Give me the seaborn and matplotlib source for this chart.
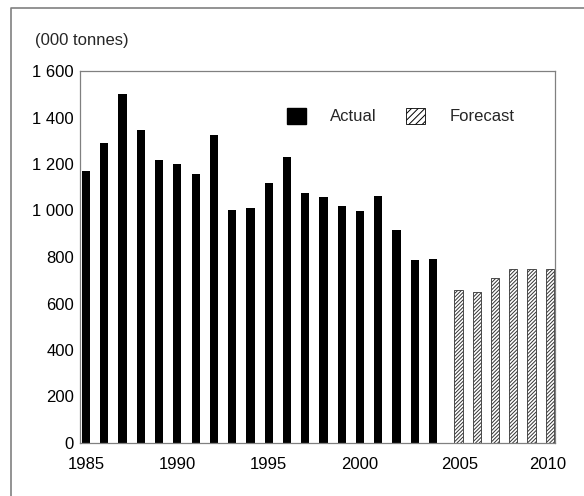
import matplotlib
matplotlib.use("Agg")
import matplotlib.pyplot as plt
import matplotlib.transforms as mtransforms
from matplotlib.patches import Patch
from matplotlib.lines import Line2D
import seaborn as sns

##### DATA #####
actual_years = [1985, 1986, 1987, 1988, 1989, 1990, 1991, 1992, 1993, 1994,
                1995, 1996, 1997, 1998, 1999, 2000, 2001, 2002, 2003, 2004]
actual_vals = [1170, 1289, 1500, 1348, 1216, 1200, 1156, 1325, 1002, 1011,
               1120, 1231, 1075, 1058, 1018, 998, 1062, 915, 786, 790]
forecast_years = [2005, 2006, 2007, 2008, 2009, 2010]
forecast_vals = [658, 649, 708, 748, 748, 748]
y_ticks = [0, 200, 400, 600, 800, 1000, 1200, 1400, 1600]
y_labels = ["0", "200", "400", "600", "800", "1 000", "1 200", "1 400", "1 600"]
x_labels = ["1985", "1990", "1995", "2000", "2005", "2010"]

##### STYLE #####
sns.set_style("white")
plt.rcParams["font.family"] = ["Liberation Sans", "DejaVu Sans"]
plt.rcParams["hatch.linewidth"] = 0.7
grey = "#808080"

W, H = 584, 496
fig = plt.figure(figsize=(W / 100, H / 100), dpi=100)
ax = fig.add_axes([80 / W, (H - 443) / H, (555 - 80) / W, (443 - 71) / H])

##### BARS #####
sns.barplot(x=actual_years, y=actual_vals, native_scale=True, width=0.45,
            color="black", saturation=1, errorbar=None, ax=ax, linewidth=0)
n_actual = len(ax.patches)
sns.barplot(x=forecast_years, y=forecast_vals, native_scale=True, width=0.45,
            color="white", saturation=1, errorbar=None, ax=ax,
            edgecolor="#333333", linewidth=0.6, hatch="/////////")
# forecast bars sit a little to the right of their year slot
shift = mtransforms.offset_copy(ax.transData, fig=fig, x=7, y=0, units="dots")
for p in ax.patches[n_actual:]:
    p.set_transform(shift)

ax.set_xlim(1984.67, 2010.67)
ax.set_ylim(0, 1600)
ax.set_yticks(y_ticks)
ax.set_yticklabels(y_labels)
ax.set_xticks([1985, 1990, 1995, 2000, 2005.45, 2010.25])
ax.set_xticklabels(x_labels)
ax.tick_params(axis="both", length=0, labelsize=12, colors="black")
ax.tick_params(axis="y", pad=4.3)
ax.tick_params(axis="x", pad=10)
ax.set_xlabel("")
ax.set_ylabel("")
for s in ax.spines.values():
    s.set_visible(True)
    s.set_color(grey)
    s.set_linewidth(0.9)

##### LEGEND #####
handles = [Patch(facecolor="black", edgecolor="black"),
           Patch(facecolor="white", edgecolor="black", hatch="/////", linewidth=0.6)]
fig.legend(handles, ["Actual", "Forecast"], ncol=2, frameon=False,
           loc="center left", bbox_to_anchor=(287 / W, 1 - 116 / H),
           fontsize=12, handlelength=1.15, handleheight=1.15,
           handletextpad=1.45, columnspacing=1.75, borderpad=0, borderaxespad=0)

##### TEXT + OUTER FRAME #####
fig.text(35 / W, 1 - 40 / H, "(000 tonnes)", fontsize=12, va="center", ha="left")
fig.add_artist(Line2D([11 / W, 11 / W, 1.0], [0.0, 1 - 8 / H, 1 - 8 / H],
                      transform=fig.transFigure, color=grey, linewidth=1.2))

fig.savefig("out.png", dpi=100)
